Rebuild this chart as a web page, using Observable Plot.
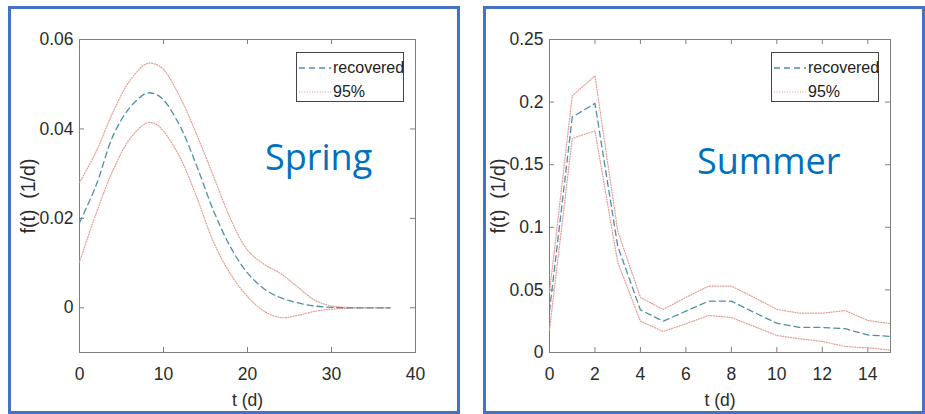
<!DOCTYPE html>
<html>
<head>
<meta charset="utf-8">
<script src="https://cdn.jsdelivr.net/npm/d3@7"></script>
<script src="https://cdn.jsdelivr.net/npm/@observablehq/plot@0.6"></script>
<style>
  html, body { margin: 0; padding: 0; background: #fff; }
  #page { position: relative; width: 925px; height: 414px; overflow: hidden; background: #fff; }
  .panel-plot { position: absolute; top: 0; }
  .box { position: absolute; border: 3px solid #4472C4; box-sizing: border-box; pointer-events: none; }
  .season { position: absolute; font-family: "Open Sans", "Noto Sans", sans-serif; font-size: 36px; color: #0070C0; line-height: 1; white-space: nowrap; }
  .legend { position: absolute; width: 108px; height: 50px; box-sizing: border-box; border: 1px solid #444; background: #fff;
            font-family: "Liberation Sans", Arial, sans-serif; font-size: 16px; color: #222; }
  .legend .row { position: absolute; left: 0; height: 20px; width: 106px; }
  .legend svg { position: absolute; left: 2px; top: 0; }
  .legend span { position: absolute; left: 36px; top: 0px; line-height: 20px; }
</style>
</head>
<body>
<div id="page"></div>
<script>
// ---------- data ----------
const springT         = [0, 2, 4, 6, 8, 9, 10, 12, 14, 16, 18, 20, 22, 24, 26, 28, 30, 32, 34, 36, 37];
const springRecovered = [0.019, 0.0275, 0.0385, 0.0448, 0.048, 0.0478, 0.0465, 0.0405, 0.0315, 0.0215, 0.0135, 0.0078, 0.0042, 0.0022, 0.0011, 0.0004, 0.0001, 0, 0, 0, 0];
const springUpper     = [0.028, 0.035, 0.0438, 0.0508, 0.0546, 0.0545, 0.0533, 0.047, 0.0385, 0.0292, 0.0198, 0.0129, 0.0097, 0.0076, 0.0046, 0.0017, 0.0004, 0.0001, 0, 0, 0];
const springLower     = [0.0102, 0.0212, 0.0308, 0.0378, 0.0413, 0.0412, 0.0395, 0.0335, 0.0245, 0.0145, 0.0075, 0.0025, -0.0008, -0.0022, -0.0017, -0.0008, -0.0003, -0.0001, 0, 0, 0];

const summerT         = [0, 1, 2, 3, 4, 5, 6, 7, 8, 9, 10, 11, 12, 13, 14, 15];
const summerRecovered = [0.033, 0.188, 0.199, 0.085, 0.034, 0.025, 0.033, 0.041, 0.041, 0.032, 0.0234, 0.020, 0.020, 0.019, 0.014, 0.0128];
const summerUpper     = [0.048, 0.205, 0.221, 0.097, 0.044, 0.0344, 0.044, 0.053, 0.053, 0.044, 0.0344, 0.0314, 0.0314, 0.0335, 0.0256, 0.023];
const summerLower     = [0.018, 0.171, 0.177, 0.072, 0.025, 0.0168, 0.023, 0.0296, 0.028, 0.0208, 0.0136, 0.011, 0.0088, 0.0048, 0.0037, 0.002];

const springXTicks = [0, 10, 20, 30, 40];
const springYTicks = [0, 0.02, 0.04, 0.06];
const summerXTicks = [0, 2, 4, 6, 8, 10, 12, 14];
const summerYTicks = [0, 0.05, 0.1, 0.15, 0.2, 0.25];

const legendLabels = ["recovered", "95%"];
const seasonLabels = ["Spring", "Summer"];
const xLabel = "t (d)";
const yLabel = "f(t)\u00a0\u00a0(1/d)";

// ---------- styles ----------
const recColor = "#4f8fa8";
const ciColor = "#e49c93";
const frameColor = "#808080";
const textColor = "#2b2b2b";

function panel({t, rec, up, lo, xDomain, yDomain, xTicks, yTicks, width, innerWidth, curve}) {
  const height = 414, mT = 39, mB = 62, mL = 79, mR = width - mL - innerWidth;
  const innerW = innerWidth, innerH = height - mT - mB;
  const tk = 5;
  const rows = (ys) => t.map((x, i) => ({x, y: ys[i]}));
  const svg = Plot.plot({
    width, height, marginTop: mT, marginBottom: mB, marginLeft: mL, marginRight: mR,
    style: {background: "transparent", fontFamily: "'Liberation Sans', Arial, sans-serif", fontSize: "17.5px", color: textColor, overflow: "visible"},
    x: {domain: xDomain},
    y: {domain: yDomain},
    marks: [
      Plot.frame({stroke: frameColor}),
      Plot.tickX(xTicks, {x: d => d, insetTop: innerH - tk, stroke: frameColor}),
      Plot.tickX(xTicks, {x: d => d, insetBottom: innerH - tk, stroke: frameColor}),
      Plot.tickY(yTicks, {y: d => d, insetLeft: innerW - tk, stroke: frameColor}),
      Plot.tickY(yTicks, {y: d => d, insetRight: innerW - tk, stroke: frameColor}),
      Plot.axisX(xTicks, {tickSize: 0, tickPadding: 15, tickFormat: d => String(d), label: xLabel, labelAnchor: "center", labelOffset: 53, labelArrow: "none"}),
      Plot.axisY(yTicks, {tickSize: 0, tickPadding: 6, tickFormat: d => String(d), label: yLabel, labelAnchor: "center", labelOffset: 58, labelArrow: "none"}),
      Plot.line(rows(lo), {x: "x", y: "y", stroke: ciColor, strokeWidth: 1.2, strokeDasharray: "1,1.6", curve}),
      Plot.line(rows(up), {x: "x", y: "y", stroke: ciColor, strokeWidth: 1.2, strokeDasharray: "1,1.6", curve}),
      Plot.line(rows(rec), {x: "x", y: "y", stroke: recColor, strokeWidth: 1.3, strokeDasharray: "6,4", curve})
    ]
  });
  const yl = svg.querySelector('[aria-label="y-axis label"]');
  if (yl) yl.setAttribute("font-size", "19.5");
  return svg;
}

const page = document.getElementById("page");

function addPlot(svg, left) {
  svg.classList.add("panel-plot");
  svg.style.position = "absolute";
  svg.style.left = left + "px";
  svg.style.top = "0px";
  page.appendChild(svg);
}

addPlot(panel({t: springT, rec: springRecovered, up: springUpper, lo: springLower,
  xDomain: [0, 40], yDomain: [-0.01, 0.06], xTicks: springXTicks, yTicks: springYTicks,
  width: 470, innerWidth: 336, curve: "catmull-rom"}), 0);

addPlot(panel({t: summerT, rec: summerRecovered, up: summerUpper, lo: summerLower,
  xDomain: [0, 15], yDomain: [0, 0.25], xTicks: summerXTicks, yTicks: summerYTicks,
  width: 455, innerWidth: 341, curve: "linear"}), 470);

function addLegend(left, top) {
  const lg = document.createElement("div");
  lg.className = "legend";
  lg.style.left = left + "px";
  lg.style.top = top + "px";
  const styles = [{c: recColor, d: "6,4", w: 1.3}, {c: ciColor, d: "1,1.6", w: 1.2}];
  legendLabels.forEach((lab, i) => {
    const row = document.createElement("div");
    row.className = "row";
    row.style.top = (5 + i * 24) + "px";
    const s = styles[i];
    row.innerHTML = `<svg width="32" height="20"><line x1="0" x2="32" y1="10" y2="10" stroke="${s.c}" stroke-width="${s.w}" stroke-dasharray="${s.d}"/></svg><span>${lab}</span>`;
    lg.appendChild(row);
  });
  page.appendChild(lg);
}
addLegend(296, 52);
addLegend(771, 52);

function addSeason(text, left, top) {
  const d = document.createElement("div");
  d.className = "season";
  d.textContent = text;
  d.style.left = left + "px";
  d.style.top = top + "px";
  page.appendChild(d);
}
addSeason(seasonLabels[0], 265, 139);
addSeason(seasonLabels[1], 697, 143);

function addBox(left, top, w, h) {
  const b = document.createElement("div");
  b.className = "box";
  Object.assign(b.style, {left: left + "px", top: top + "px", width: w + "px", height: h + "px"});
  page.appendChild(b);
}
addBox(8, 6, 452, 408);
addBox(483, 6, 442, 408);
</script>
</body>
</html>
